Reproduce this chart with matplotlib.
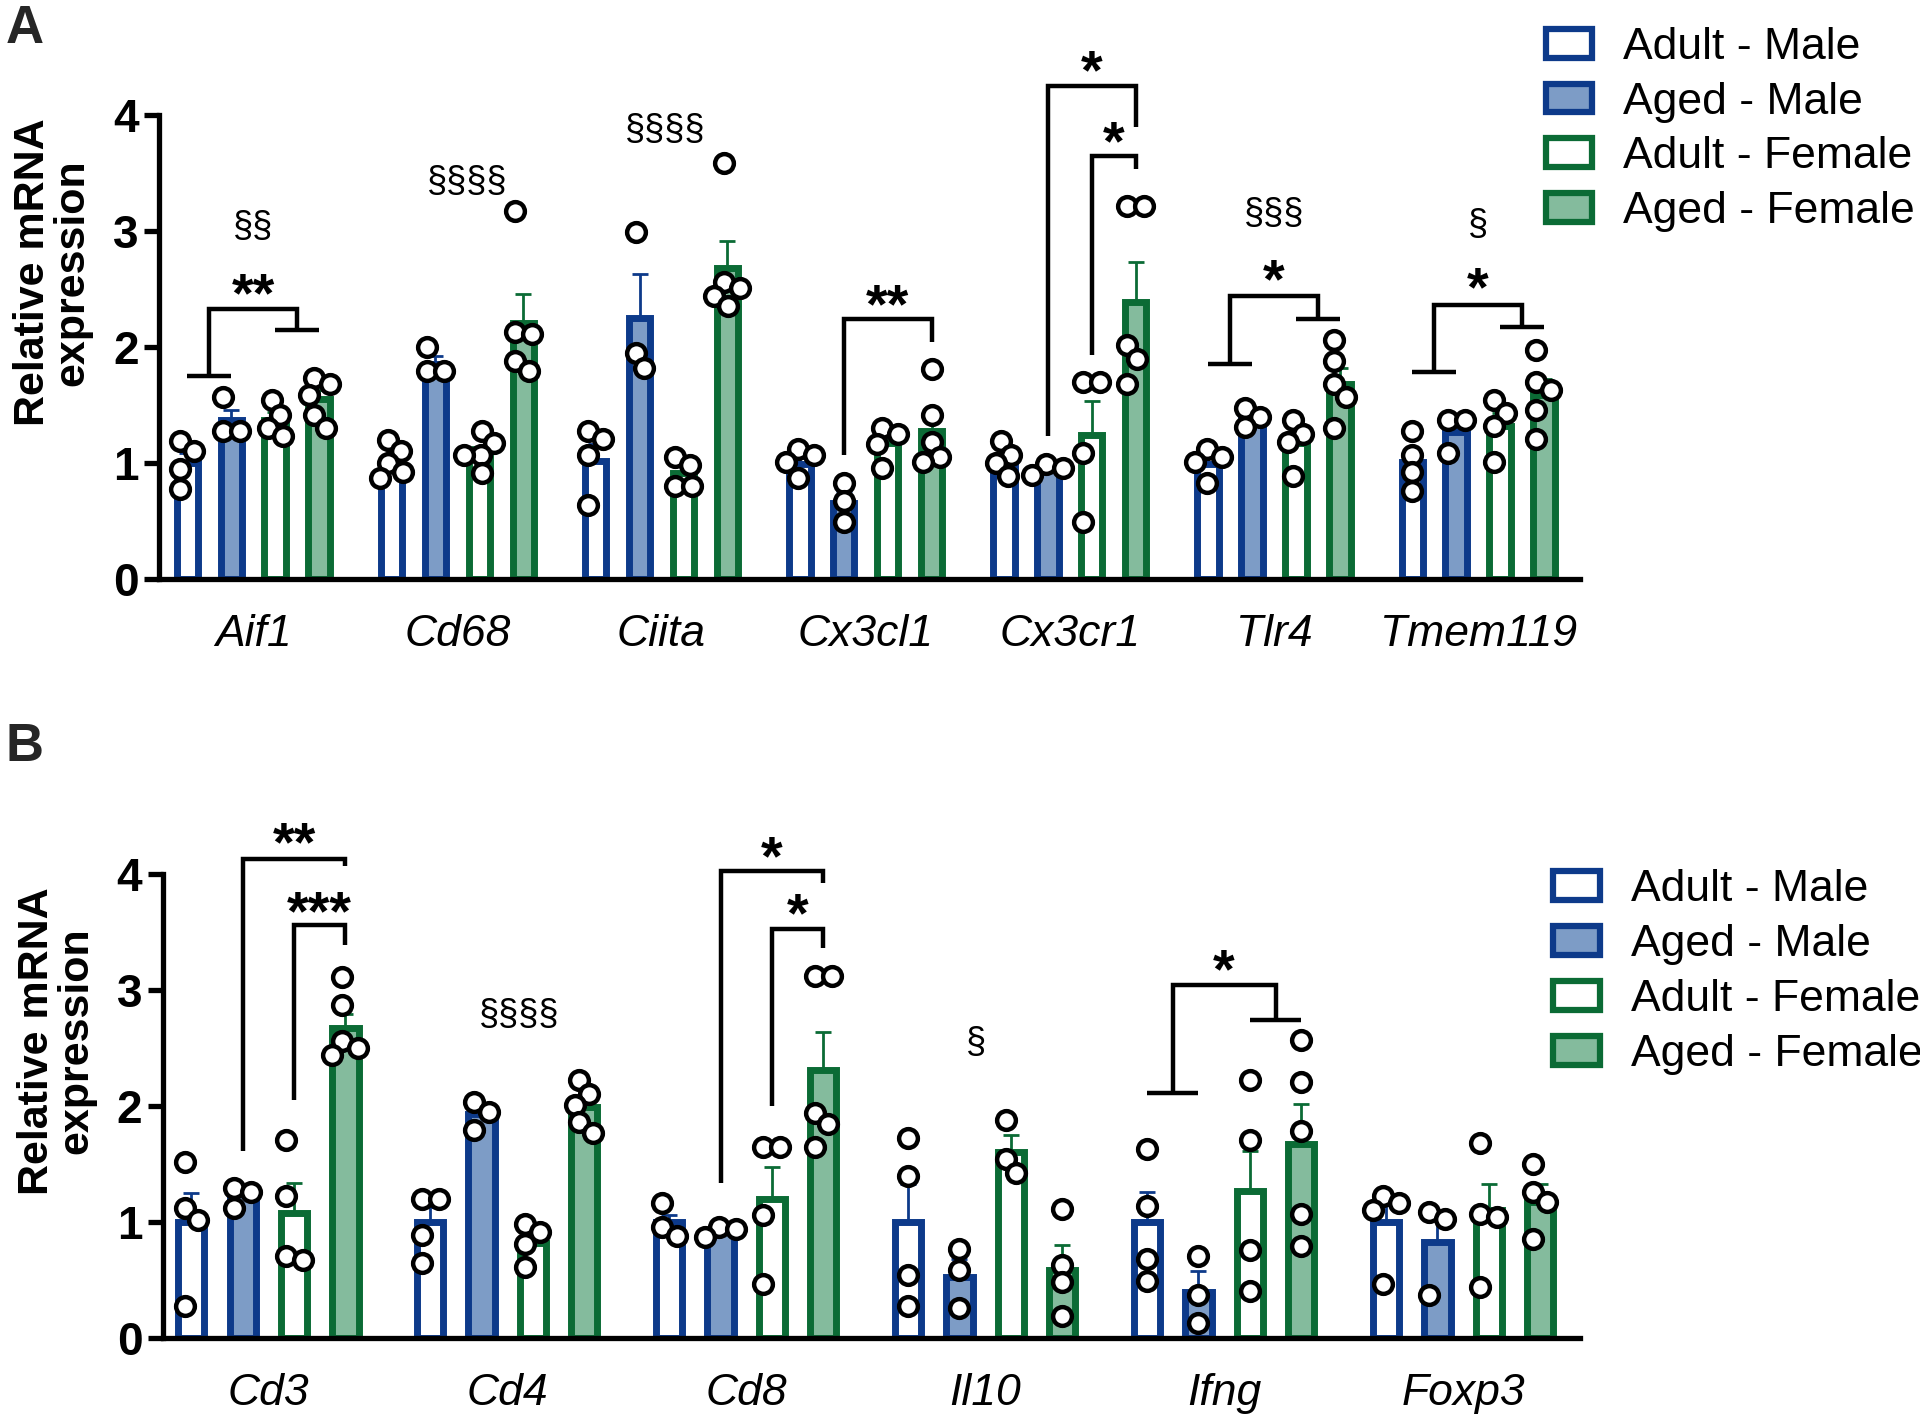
import matplotlib
matplotlib.use('Agg')
import matplotlib.pyplot as plt
from matplotlib.patches import Patch
import numpy as np

plt.rcParams['font.family'] = ['Liberation Sans', 'DejaVu Sans']

# groups / colours
groups = ['Adult - Male', 'Aged - Male', 'Adult - Female', 'Aged - Female']
edge_cols = ['#0d3a8a', '#0d3a8a', '#0b6b35', '#0b6b35']
fill_cols = ['white', '#7d9cc6', 'white', '#84bb9d']

# ---------------- panel A data ----------------
genes_a = ['Aif1', 'Cd68', 'Ciita', 'Cx3cl1', 'Cx3cr1', 'Tlr4', 'Tmem119']

mean_a_adult_m = [1.0, 1.0, 1.02, 0.99, 1.01, 0.99, 1.01]
mean_a_aged_m = [1.37, 1.85, 2.25, 0.66, 0.95, 1.37, 1.27]
mean_a_adult_f = [1.37, 1.08, 0.91, 1.17, 1.24, 1.17, 1.32]
mean_a_aged_f = [1.55, 2.21, 2.68, 1.28, 2.39, 1.68, 1.59]

sem_a_adult_m = [0.09, 0.07, 0.14, 0.05, 0.06, 0.06, 0.11]
sem_a_aged_m = [0.09, 0.07, 0.38, 0.10, 0.03, 0.05, 0.09]
sem_a_adult_f = [0.07, 0.06, 0.07, 0.07, 0.29, 0.10, 0.11]
sem_a_aged_f = [0.08, 0.25, 0.23, 0.13, 0.34, 0.14, 0.13]

pts_a_adult_m = [[1.19, 1.10, 0.95, 0.78], [1.20, 1.10, 1.00, 0.92, 0.87],
                 [1.28, 1.21, 1.07, 0.64], [1.12, 1.07, 1.01, 0.87],
                 [1.19, 1.07, 1.00, 0.89], [1.12, 1.05, 1.01, 0.83],
                 [1.28, 1.07, 0.92, 0.76]]
pts_a_aged_m = [[1.57, 1.28, 1.28], [2.00, 1.79, 1.79], [2.99, 1.95, 1.82],
                [0.83, 0.67, 0.49], [0.99, 0.96, 0.90], [1.47, 1.40, 1.31],
                [1.37, 1.37, 1.09]]
pts_a_adult_f = [[1.54, 1.41, 1.30, 1.23], [1.28, 1.17, 1.07, 1.07, 0.91],
                 [1.05, 0.98, 0.80, 0.80], [1.30, 1.25, 1.16, 0.96],
                 [1.70, 1.70, 1.09, 0.49], [1.37, 1.25, 1.18, 0.89],
                 [1.54, 1.43, 1.32, 1.01]]
pts_a_aged_f = [[1.73, 1.68, 1.59, 1.41, 1.30], [3.17, 2.13, 2.11, 1.88, 1.79],
                [3.58, 2.56, 2.51, 2.44, 2.35], [1.81, 1.41, 1.18, 1.05, 1.01],
                [3.21, 3.21, 2.02, 1.90, 1.68], [2.06, 1.88, 1.68, 1.57, 1.30],
                [1.97, 1.70, 1.63, 1.46, 1.21]]

# ---------------- panel B data ----------------
genes_b = ['Cd3', 'Cd4', 'Cd8', 'Il10', 'Ifng', 'Foxp3']

mean_b_adult_m = [1.0, 1.0, 1.0, 1.0, 1.0, 1.0]
mean_b_aged_m = [1.25, 1.93, 0.93, 0.53, 0.40, 0.83]
mean_b_adult_f = [1.08, 0.82, 1.20, 1.60, 1.27, 1.10]
mean_b_aged_f = [2.67, 1.99, 2.31, 0.59, 1.67, 1.17]

sem_b_adult_m = [0.25, 0.13, 0.06, 0.33, 0.26, 0.15]
sem_b_aged_m = [0.05, 0.08, 0.03, 0.15, 0.18, 0.20]
sem_b_adult_f = [0.26, 0.08, 0.27, 0.15, 0.34, 0.23]
sem_b_aged_f = [0.12, 0.08, 0.33, 0.21, 0.35, 0.16]

pts_b_adult_m = [[1.52, 1.12, 1.02, 0.28], [1.20, 1.20, 0.89, 0.65],
                 [1.16, 0.96, 0.88], [1.72, 1.40, 0.54, 0.28],
                 [1.63, 1.14, 0.68, 0.49], [1.22, 1.16, 1.10, 0.47]]
pts_b_aged_m = [[1.29, 1.26, 1.12], [2.03, 1.95, 1.79], [0.96, 0.94, 0.87],
                [0.77, 0.59, 0.26], [0.71, 0.37, 0.13], [1.09, 1.03, 0.37]]
pts_b_adult_f = [[1.71, 1.22, 0.71, 0.67], [0.98, 0.91, 0.81, 0.61],
                 [1.65, 1.65, 1.06, 0.47], [1.88, 1.54, 1.42],
                 [2.22, 1.71, 0.76, 0.41], [1.68, 1.07, 1.04, 0.44]]
pts_b_aged_f = [[3.11, 2.87, 2.56, 2.50, 2.44], [2.22, 2.10, 2.01, 1.86, 1.77],
                [3.12, 3.12, 1.94, 1.84, 1.65], [1.11, 0.63, 0.48, 0.19],
                [2.57, 2.21, 1.78, 1.07, 0.79], [1.50, 1.26, 1.17, 0.85]]

# significance marks: (gene index, bar i, bar j, y left, y top, y right, label, label y)
pairs_a = [(3, 1, 3, 1.07, 2.24, 2.04, '**', 2.49),
           (4, 1, 3, 1.23, 4.25, 3.89, '*', 4.50),
           (4, 2, 3, 1.93, 3.64, 3.53, '*', 3.89)]
mains_a = [(0, 1.75, 2.33, 2.15, '**', 2.58),
           (5, 1.85, 2.44, 2.24, '*', 2.70),
           (6, 1.78, 2.36, 2.17, '*', 2.63)]
sect_a = [(0, 0.0, '§§', 3.03), (1, 0.05, '§§§§', 3.42), (2, 0.02, '§§§§', 3.87),
          (5, 0.0, '§§§', 3.14), (6, 0.0, '§', 3.05)]

pairs_b = [(0, 1, 3, 1.61, 4.13, 4.07, '**', 4.39),
           (0, 2, 3, 2.05, 3.56, 3.39, '***', 3.80),
           (2, 1, 3, 1.34, 4.02, 3.92, '*', 4.27),
           (2, 2, 3, 2.00, 3.52, 3.36, '*', 3.78)]
mains_b = [(4, 2.11, 3.04, 2.74, '*', 3.30)]
sect_b = [(1, 0.05, '§§§§', 2.78), (3, -0.04, '§', 2.54)]

fig = plt.figure(figsize=(19.2, 14.16), dpi=100)
ax_a = fig.add_axes([0.083, 0.591, 0.740, 0.328])
ax_b = fig.add_axes([0.085, 0.055, 0.738, 0.328])

offs = np.array([-1.5, -0.5, 0.5, 1.5]) * 0.215


def swarm(ax, xc, vals, diam):
    # simple beeswarm in pixel space
    bb = ax.get_window_extent()
    x0, x1 = ax.get_xlim()
    y0, y1 = ax.get_ylim()
    sx = bb.width / (x1 - x0)
    sy = bb.height / (y1 - y0)
    placed = []
    xs = []
    for v in vals:
        py = v * sy
        for k in range(0, 200):
            dx = (k + 1) // 2 * (1 if k % 2 else -1) if k else 0
            ok = all((dx - qx) ** 2 + (py - qy) ** 2 >= diam ** 2 for qx, qy in placed)
            if ok:
                break
        placed.append((dx, py))
        xs.append(xc + dx / sx)
    xs = np.array(xs)
    if len(xs) > 1:
        xs = xs - (xs.max() + xs.min()) / 2 + xc
    return xs


def panel(ax, genes, means, sems, pts, width, xlim):
    ax.set_xlim(*xlim)
    ax.set_ylim(0, 4)
    x = np.arange(len(genes))
    for g in range(4):
        ax.bar(x + offs[g], means[g], width=width, color=fill_cols[g],
               edgecolor=edge_cols[g], linewidth=5, zorder=2, label=groups[g])
        ax.errorbar(x + offs[g], means[g], yerr=[np.zeros(len(genes)), sems[g]],
                    fmt='none', ecolor=edge_cols[g], elinewidth=2, capsize=5.5,
                    capthick=2, zorder=1.9)
        for i in range(len(genes)):
            xs = swarm(ax, x[i] + offs[g], pts[g][i], 17)
            ax.plot(xs, pts[g][i], 'o', ms=13.5, mfc='white', mec='black', mew=3.2,
                    zorder=4, clip_on=False)
    ax.spines['top'].set_visible(False)
    ax.spines['right'].set_visible(False)
    ax.spines['left'].set_linewidth(3.8)
    ax.spines['bottom'].set_linewidth(3.8)
    ax.set_yticks([0, 1, 2, 3, 4])
    ax.set_yticklabels(['0', '1', '2', '3', '4'], fontsize=33, fontweight='bold')
    ax.tick_params(axis='y', length=11, width=3.8, pad=4)
    ax.set_xticks(x)
    ax.set_xticklabels(genes, fontsize=32, fontstyle='italic')
    ax.tick_params(axis='x', length=0, pad=25)
    ax.set_ylabel('Relative mRNA\nexpression', fontsize=31, fontweight='bold',
                  linespacing=1.0)


def star(ax, xc, y, s):
    ax.annotate(s, (xc, y), xytext=(0, -23), textcoords='offset points',
                ha='center', va='baseline', fontsize=40, fontweight='bold',
                annotation_clip=False)


def sect(ax, xc, y, s):
    ax.annotate(s, (xc, y), xytext=(0, -7), textcoords='offset points',
                ha='center', va='baseline', fontsize=26, annotation_clip=False)


def add_marks(ax, pairs, mains, sects):
    kw = dict(color='black', lw=3.2, clip_on=False, zorder=5,
              solid_capstyle='butt', solid_joinstyle='miter')
    for gi, i, j, yl, yt, yr, lab, ly in pairs:
        xl = gi + offs[i]
        xr = gi + offs[j]
        ax.plot([xl, xl, xr, xr], [yl, yt, yt, yr], **kw)
        star(ax, (xl + xr) / 2, ly, lab)
    for gi, yl, yt, yr, lab, ly in mains:
        l0, l1 = gi + offs[0], gi + offs[1]
        r0, r1 = gi + offs[2], gi + offs[3]
        lc, rc = (l0 + l1) / 2, (r0 + r1) / 2
        ax.plot([l0, l1], [yl, yl], **kw)
        ax.plot([r0, r1], [yr, yr], **kw)
        ax.plot([lc, lc, rc, rc], [yl, yt, yt, yr], **kw)
        star(ax, (lc + rc) / 2, ly, lab)
    for gi, dx, lab, ly in sects:
        sect(ax, gi + dx, ly, lab)


panel(ax_a, genes_a,
      [mean_a_adult_m, mean_a_aged_m, mean_a_adult_f, mean_a_aged_f],
      [sem_a_adult_m, sem_a_aged_m, sem_a_adult_f, sem_a_aged_f],
      [pts_a_adult_m, pts_a_aged_m, pts_a_adult_f, pts_a_aged_f],
      0.105, (-0.46, 6.50))
add_marks(ax_a, pairs_a, mains_a, sect_a)
ax_a.yaxis.set_label_coords(-0.047, 0.66)

panel(ax_b, genes_b,
      [mean_b_adult_m, mean_b_aged_m, mean_b_adult_f, mean_b_aged_f],
      [sem_b_adult_m, sem_b_aged_m, sem_b_adult_f, sem_b_aged_f],
      [pts_b_adult_m, pts_b_aged_m, pts_b_adult_f, pts_b_aged_f],
      0.11, (-0.44, 5.49))
add_marks(ax_b, pairs_b, mains_b, sect_b)
ax_b.yaxis.set_label_coords(-0.047, 0.64)

handles = [Patch(facecolor=fill_cols[g], edgecolor=edge_cols[g], linewidth=4.5)
           for g in range(4)]
for anchor in [(0.805, 0.981), (0.809, 0.386)]:
    fig.legend(handles, groups, loc='upper left', bbox_to_anchor=anchor,
               frameon=False, fontsize=32, handlelength=1.05, handleheight=0.62,
               handletextpad=0.7, labelspacing=0.31, borderpad=0, borderaxespad=0)

fig.text(0.003, 0.997, 'A', fontsize=38, fontweight='bold', color='#262626',
         ha='left', va='top')
fig.text(0.003, 0.49, 'B', fontsize=38, fontweight='bold', color='#262626',
         ha='left', va='top')

fig.savefig('out.png', dpi=100)
